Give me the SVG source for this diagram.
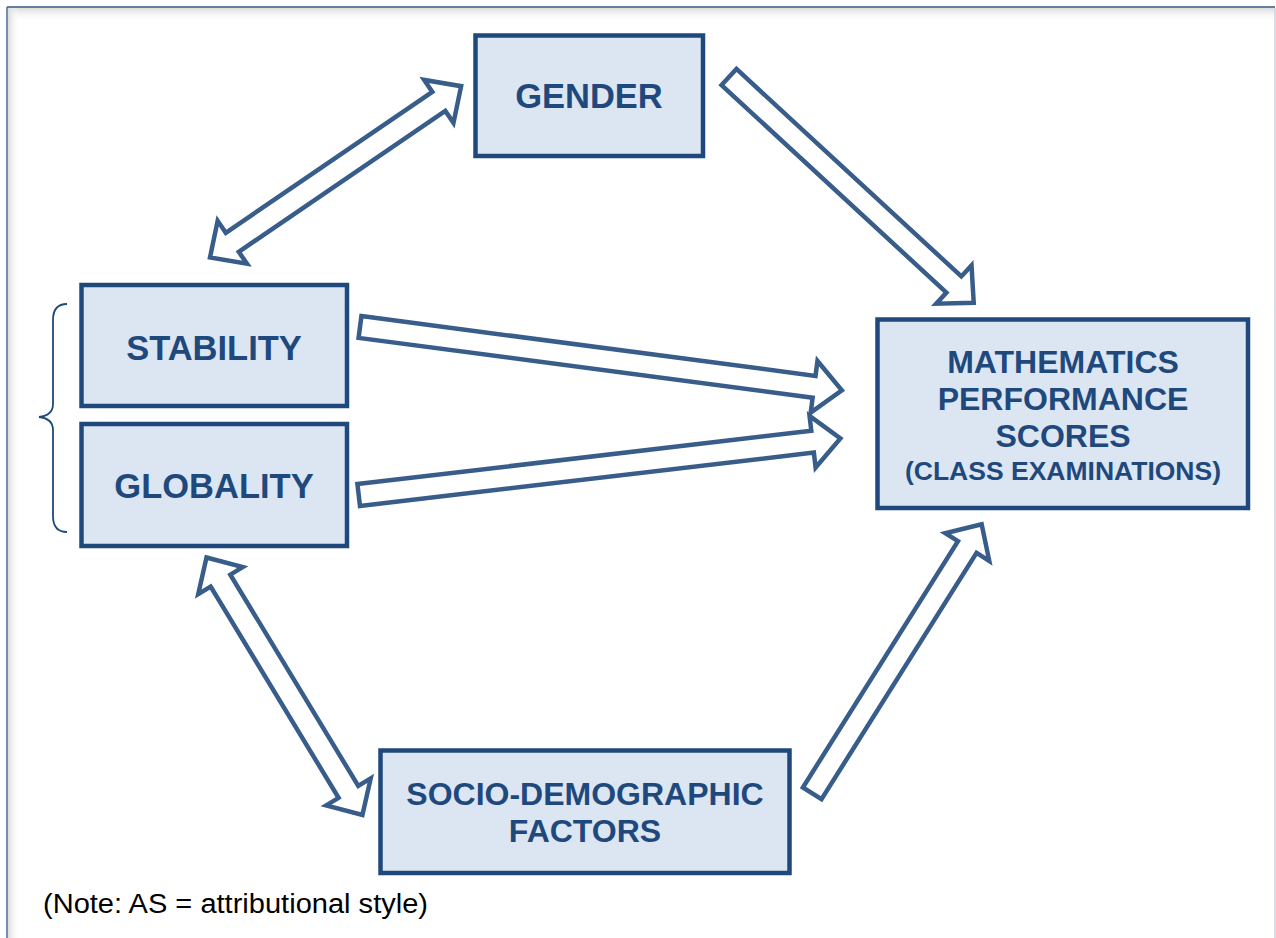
<svg xmlns="http://www.w3.org/2000/svg" width="1276" height="938" viewBox="0 0 1276 938">
  <defs>
    <style>
      .box { fill: #dce6f2; stroke: #1f497d; stroke-width: 4.5; }
      .lbl { font-family: "Liberation Sans", Arial, sans-serif; font-weight: bold; fill: #1f497d; text-anchor: middle; }
      .big { font-size: 34.5px; }
      .mid { font-size: 32px; }
      .sub { font-size: 26.5px; }
      .arrow { fill: #ffffff; stroke: #385d8a; stroke-width: 4.5; stroke-linejoin: miter; stroke-miterlimit: 10; }
      .note { font-family: "Liberation Sans", Arial, sans-serif; font-size: 27px; fill: #000000; }
    </style>
    <linearGradient id="shadeTop" x1="0" y1="0" x2="0" y2="1">
      <stop offset="0" stop-color="#dcdcdc"/>
      <stop offset="1" stop-color="#ffffff" stop-opacity="0"/>
    </linearGradient>
    <linearGradient id="shadeLeft" x1="0" y1="0" x2="1" y2="0">
      <stop offset="0" stop-color="#dcdcdc"/>
      <stop offset="1" stop-color="#ffffff" stop-opacity="0"/>
    </linearGradient>
  </defs>

  <!-- page frame -->
  <g id="frame">
    <rect x="0" y="0" width="1276" height="938" fill="#ffffff"/>
    <rect x="8" y="8" width="1267" height="14" fill="url(#shadeTop)"/>
    <rect x="8" y="8" width="12" height="930" fill="url(#shadeLeft)"/>
    <line x1="7" y1="7" x2="1275" y2="7" stroke="#2f527f" stroke-width="1.5"/>
    <line x1="7" y1="7" x2="7" y2="938" stroke="#4a6a96" stroke-width="1.5"/>
    <line x1="1275" y1="8" x2="1275" y2="938" stroke="#c9d3df" stroke-width="1.5"/>
  </g>

  <!-- connectors: hollow block arrows -->
  <g id="connectors">
    <!-- gender <-> stability -->
    <path class="arrow" transform="translate(210,257.5) rotate(-34.3)"
          d="M0,0 L27,-26 L27,-11.5 L277,-11.5 L277,-26 L304,0 L277,26 L277,11.5 L27,11.5 L27,26 Z"/>
    <!-- gender -> maths -->
    <path class="arrow" transform="translate(729,77) rotate(42.7)"
          d="M0,-11 L306,-11 L306,-26 L333,0 L306,26 L306,11 L0,11 Z"/>
    <!-- stability -> maths -->
    <path class="arrow" transform="translate(360,327) rotate(7.5)"
          d="M0,-11 L458,-11 L458,-26 L486,0 L458,26 L458,11 L0,11 Z"/>
    <!-- globality -> maths -->
    <path class="arrow" transform="translate(358.7,495) rotate(-6.7)"
          d="M0,-11 L457,-11 L457,-26 L485,0 L457,26 L457,11 L0,11 Z"/>
    <!-- globality <-> socio-demographic -->
    <path class="arrow" transform="translate(206.5,557.5) rotate(58.8)"
          d="M0,0 L27,-26 L27,-11.5 L274,-11.5 L274,-26 L301,0 L274,26 L274,11.5 L27,11.5 L27,26 Z"/>
    <!-- socio-demographic -> maths -->
    <path class="arrow" transform="translate(812.2,793.3) rotate(-57.8)"
          d="M0,-11 L291,-11 L291,-26 L318,0 L291,26 L291,11 L0,11 Z"/>
  </g>

  <!-- brace grouping the attributional style dimensions -->
  <g id="brace">
    <path d="M67,304 C58,304 53,309 53,320 L53,404 C53,412 48,416 39,417 C48,418 53,422 53,430 L53,516 C53,527 58,532 67,532"
          fill="none" stroke="#1f497d" stroke-width="1.8"/>
  </g>

  <g id="gender">
    <rect class="box" x="475.5" y="35.5" width="227.5" height="120.5"/>
    <text class="lbl big" x="589" y="108.3">GENDER</text>
  </g>

  <g id="stability">
    <rect class="box" x="81.5" y="285" width="265.5" height="121"/>
    <text class="lbl big" x="214" y="360">STABILITY</text>
  </g>

  <g id="globality">
    <rect class="box" x="81.5" y="424" width="265.5" height="122"/>
    <text class="lbl big" x="214" y="498.3">GLOBALITY</text>
  </g>

  <g id="maths">
    <rect class="box" x="877.5" y="319.5" width="370.5" height="188.5"/>
    <text class="lbl mid" x="1063" y="373.3">MATHEMATICS</text>
    <text class="lbl mid" x="1063" y="410">PERFORMANCE</text>
    <text class="lbl mid" x="1063" y="446.7">SCORES</text>
    <text class="lbl sub" x="1063" y="480">(CLASS EXAMINATIONS)</text>
  </g>

  <g id="socio">
    <rect class="box" x="380.5" y="750.5" width="409" height="122.5"/>
    <text class="lbl mid" x="585" y="805">SOCIO-DEMOGRAPHIC</text>
    <text class="lbl mid" x="585" y="841.7">FACTORS</text>
  </g>

  <text class="note" x="43" y="913.3" textLength="385" lengthAdjust="spacingAndGlyphs">(Note: AS = attributional style)</text>
</svg>
